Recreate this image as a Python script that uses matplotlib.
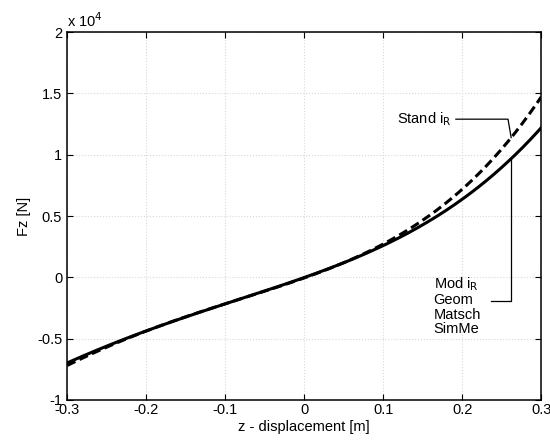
import numpy as np
import matplotlib.pyplot as plt

plt.rcParams['font.family'] = ['Liberation Sans', 'DejaVu Sans']

# z-displacement [m] and Fz [x 10^4 N]
z = [-0.3, -0.25, -0.2, -0.15, -0.1, -0.05, 0.0, 0.05, 0.1, 0.15, 0.2, 0.25, 0.3]
fz_mod = [-0.70, -0.56, -0.43, -0.33, -0.22, -0.11, 0.0, 0.12, 0.26, 0.43, 0.63, 0.90, 1.22]
fz_stand = [-0.72, -0.57, -0.43, -0.33, -0.22, -0.11, 0.0, 0.12, 0.27, 0.46, 0.72, 1.05, 1.47]

xticks = [-0.3, -0.2, -0.1, 0, 0.1, 0.2, 0.3]
xticklabels = ['-0.3', '-0.2', '-0.1', '0', '0.1', '0.2', '0.3']
yticks = [-1, -0.5, 0, 0.5, 1, 1.5, 2]
yticklabels = ['-1', '-0.5', '0', '0.5', '1', '1.5', '2']

# smooth curves through the read points
zs = np.linspace(-0.3, 0.3, 200)
cm = np.polyfit(z, fz_mod, 4)
cs = np.polyfit(z, fz_stand, 4)

fig = plt.figure(figsize=(5.5, 4.4), dpi=100)
ax = fig.add_axes([0.122, 0.091, 0.862, 0.836])

ax.plot(zs, np.polyval(cm, zs), color='black', lw=2.2)
ax.plot(zs, np.polyval(cs, zs), color='black', lw=2.2, ls=(0, (3, 1.5)))

ax.set_xlim(-0.3, 0.3)
ax.set_ylim(-1, 2)
ax.set_xticks(xticks)
ax.set_xticklabels(xticklabels)
ax.set_yticks(yticks)
ax.set_yticklabels(yticklabels)
ax.tick_params(direction='in', top=True, right=True, labelsize=10.5, length=4)
ax.tick_params(axis='x', pad=2)
ax.grid(True, ls=':', color='#d8d8d8', lw=0.8)
for s in ax.spines.values():
    s.set_linewidth(1.1)

ax.set_xlabel('z - displacement [m]', fontsize=10.5, labelpad=2)
ax.set_ylabel('Fz [N]', fontsize=10.5)
ax.text(0.0, 1.005, 'x 10$^4$', transform=ax.transAxes, fontsize=10.5, va='bottom')

# annotations
zt = 0.262
ys = np.polyval(cs, zt)
ym = np.polyval(cm, zt)
ax.text(0.186, 1.29, 'Stand i$_\\mathrm{R}$', fontsize=10.5, ha='right', va='center')
ax.plot([0.192, 0.258, zt], [1.29, 1.29, ys], color='black', lw=0.9)

ax.text(0.164, -0.23, 'Mod i$_\\mathrm{R}$\nGeom\nMatsch\nSimMe', fontsize=10.5,
        ha='left', va='center', linespacing=1.05)
ax.plot([0.237, zt, zt], [-0.19, -0.19, ym], color='black', lw=0.9)

fig.savefig('out.png', dpi=100)
